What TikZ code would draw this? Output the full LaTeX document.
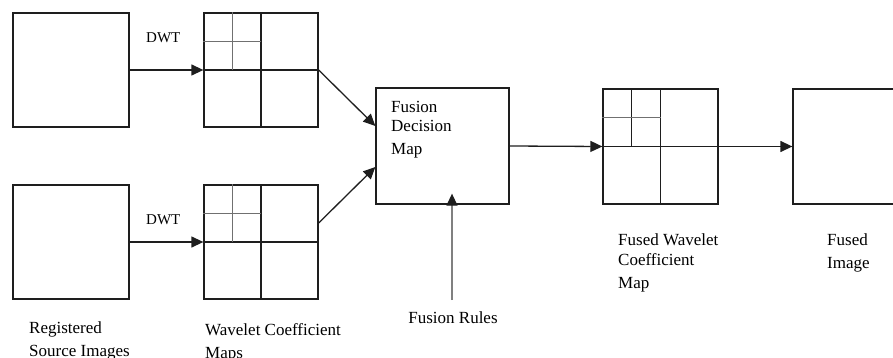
\documentclass[tikz,border=0pt]{standalone}
\usepackage{fontspec}
\setmainfont{Liberation Serif}
\usetikzlibrary{arrows.meta,positioning,calc}
\definecolor{boxline}{HTML}{1E1E1E}
\definecolor{subline}{HTML}{707070}
\definecolor{rulesgray}{HTML}{808080}
\tikzset{
  imgbox/.style={draw=boxline,line width=1.3pt,inner sep=0pt,minimum width=116pt,minimum height=114pt},
  mapbox/.style={draw=boxline,line width=1.3pt,inner sep=0pt,minimum width=114pt,minimum height=114pt},
  lbl/.style={inner sep=0pt,align=left,font=\fontsize{17}{20}\selectfont},
  dwtlbl/.style={inner sep=0pt,font=\fontsize{15}{18}\selectfont},
  flow/.style={-{Triangle[length=12pt,width=11pt,color=boxline]},line width=1.3pt,draw=boxline},
  gridline/.style={line width=1.3pt},
}

\begin{document}
\begin{tikzpicture}[x=1pt,y=-1pt]
  \useasboundingbox (0,0) rectangle (893,358);
  % source images and their wavelet maps
  \node[imgbox] (src1) at (71,70) {};
  \node[imgbox] (src2) at (71,242) {};
  \node[mapbox] (wav1) at (261,70) {};
  \node[mapbox] (wav2) at (261,242) {};
  \node[imgbox,minimum width=133pt,minimum height=116pt] (fdm) at (442.5,146) {};
  \node[mapbox,minimum width=115pt,minimum height=115pt] (fwav) at (660.5,146.5) {};
  \node[imgbox,minimum height=115pt] (fimg) at (851,146.5) {};

  \foreach \m/\c in {wav1/subline,wav2/subline,fwav/boxline}{
    \draw[gridline,draw=boxline] (\m.north) -- (\m.south) (\m.west) -- (\m.east);
    \draw[gridline,draw=\c] ($(\m.north west)!.5!(\m.north)$) -- ($(\m.west)!.5!(\m.center)$);
    \draw[gridline,draw=subline] ($(\m.north west)!.5!(\m.west)$) -- ($(\m.north)!.5!(\m.center)$);
  }

  % labels
  \node[dwtlbl,anchor=base west] (dwt1) at (146,43) {DWT};
  \node[dwtlbl,anchor=base west] (dwt2) at (146,224) {DWT};
  \node[lbl,anchor=north west,font=\fontsize{17}{19}\selectfont] (fdmtxt) at (391,101.5) {Fusion\\Decision\\[4pt]Map};
  \node[lbl,anchor=base] (rules) at (453,323) {Fusion Rules};
  \node[lbl,anchor=north west] (srclbl) at (29,321.5) {Registered\\[3pt]Source Images};
  \node[lbl,anchor=north west] (wavlbl) at (205,323.5) {Wavelet Coefficient\\[3pt]Maps};
  \node[lbl,anchor=north west] (fwavlbl) at (618,233.5) {Fused Wavelet\\Coefficient\\[3pt]Map};
  \node[lbl,anchor=north west] (fimglbl) at (827,233.5) {Fused\\[3pt]Image};

  % connectors
  \draw[flow] (src1.east) -- (wav1.west);
  \draw[flow] (src2.east) -- (wav2.west);
  \draw[flow] (wav1.east) -- ($(fdm.west)+(0,-20)$);
  \draw[flow] ($(wav2.east)+(0,-19)$) -- ($(fdm.west)+(0,21)$);
  \draw[flow] (fdm.east) -- (fwav.west);
  \draw[flow] (fwav.east) -- (fimg.west);
  \draw[flow,draw=rulesgray] ([xshift=-1pt,yshift=11pt]rules.north) -- ([xshift=-1pt,yshift=11pt]rules.north |- fdm.south);
\end{tikzpicture}
\end{document}
